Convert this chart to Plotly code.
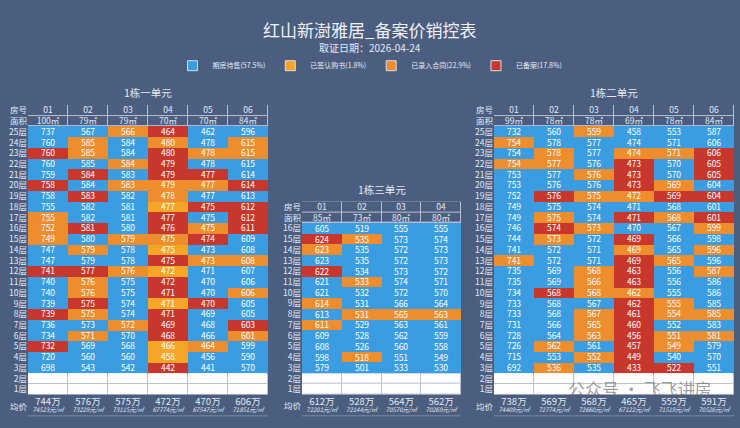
import plotly.graph_objects as go

TITLE = "红山新澍雅居_备案价销控表"
SUBTITLE = "取证日期：2026-04-24"
AVG_LABEL = "均价"
HEAD_LABELS = ["房号", "面积"]
WATERMARK = "公众号 · 飞飞讲房"

STATUS_CODES = ["B", "Y", "O", "R"]
STATUS_NAMES = ["期房待售(57.5%)", "已签认购书(1.8%)", "已录入合同(22.9%)", "已备案(17.8%)"]
STATUS_COLORS = ["#3a9de2", "#f5a628", "#ee8d2e", "#c8372d"]

BG = "#4b5e80"
TXT = "#e4e9f1"
FONT = "Noto Sans CJK SC"

# ---- 1栋一单元 ----
u1_name = "1栋一单元"
u1_rooms = ["01", "02", "03", "04", "05", "06"]
u1_areas = ["100㎡", "79㎡", "79㎡", "70㎡", "70㎡", "84㎡"]
u1_floors = [f"{f}层" for f in range(25, 2, -1)]
u1_empty = ["2层", "1层"]
u1_prices = [
    [737, 567, 566, 464, 462, 596],
    [760, 585, 584, 480, 478, 615],
    [760, 585, 584, 480, 478, 615],
    [760, 585, 584, 479, 478, 615],
    [759, 584, 583, 479, 477, 614],
    [758, 584, 583, 479, 477, 614],
    [758, 583, 582, 478, 477, 613],
    [755, 582, 581, 477, 475, 612],
    [755, 582, 581, 477, 475, 612],
    [752, 581, 580, 476, 475, 611],
    [749, 580, 579, 475, 474, 609],
    [747, 579, 578, 475, 473, 608],
    [747, 579, 578, 475, 473, 608],
    [741, 577, 576, 472, 471, 607],
    [740, 576, 575, 472, 470, 606],
    [740, 576, 575, 471, 470, 606],
    [739, 575, 574, 471, 470, 605],
    [739, 575, 574, 471, 469, 605],
    [736, 573, 572, 469, 468, 603],
    [734, 571, 570, 468, 466, 601],
    [732, 569, 568, 466, 464, 599],
    [720, 560, 560, 458, 456, 590],
    [698, 543, 542, 442, 441, 570],
]
u1_status = [
    "BBORBB", "BOBOBO", "ROBROO", "BBORBB", "BRBRRB", "RBOOOR", "BRBOBB",
    "BBBYRR", "OBBRBR", "ORBROR", "OBOORB", "BOBYBB", "BBBROO", "RROYBB",
    "BOBRBB", "BOBRBO", "BRBYRB", "ROBRBB", "BBORBR", "BOBRBO", "RBBYOB",
    "BBBYBB", "BBBRBB",
]
u1_avg_total = ["744万", "576万", "575万", "472万", "470万", "606万"]
u1_avg_unit = ["74523元/㎡", "73229元/㎡", "73115元/㎡", "67774元/㎡", "67547元/㎡", "71851元/㎡"]

# ---- 1栋三单元 ----
u3_name = "1栋三单元"
u3_rooms = ["01", "02", "03", "04"]
u3_areas = ["85㎡", "73㎡", "80㎡", "80㎡"]
u3_floors = [f"{f}层" for f in range(16, 2, -1)]
u3_empty = ["2层", "1层"]
u3_prices = [
    [605, 519, 555, 555],
    [624, 535, 573, 574],
    [623, 535, 572, 573],
    [623, 535, 572, 573],
    [622, 534, 573, 572],
    [621, 533, 574, 571],
    [621, 532, 572, 570],
    [614, 531, 566, 564],
    [613, 531, 565, 563],
    [611, 529, 563, 561],
    [609, 528, 562, 559],
    [608, 526, 560, 558],
    [598, 518, 551, 549],
    [579, 501, 533, 530],
]
u3_status = [
    "BBBB", "ROBB", "OBBB", "BBBB", "RBBB", "BOBB", "BBBB",
    "OBBB", "BOOO", "OBBB", "BBBB", "BBBB", "BOBB", "BBBB",
]
u3_avg_total = ["612万", "528万", "564万", "562万"]
u3_avg_unit = ["72201元/㎡", "72144元/㎡", "70570元/㎡", "70269元/㎡"]

# ---- 1栋二单元 ----
u2_name = "1栋二单元"
u2_rooms = ["01", "02", "03", "04", "05", "06"]
u2_areas = ["99㎡", "78㎡", "78㎡", "69㎡", "78㎡", "84㎡"]
u2_floors = [f"{f}层" for f in range(25, 2, -1)]
u2_empty = ["2层", "1层"]
u2_prices = [
    [732, 560, 559, 458, 553, 587],
    [754, 578, 577, 474, 571, 606],
    [754, 578, 577, 474, 571, 606],
    [754, 577, 576, 473, 570, 605],
    [753, 577, 576, 473, 570, 605],
    [753, 576, 576, 473, 569, 604],
    [752, 576, 575, 472, 569, 604],
    [749, 575, 574, 471, 568, 601],
    [749, 575, 574, 471, 568, 601],
    [746, 574, 573, 470, 567, 599],
    [744, 573, 572, 469, 566, 598],
    [741, 572, 571, 469, 565, 596],
    [741, 572, 571, 469, 565, 596],
    [735, 569, 568, 463, 556, 587],
    [735, 569, 566, 463, 556, 586],
    [734, 568, 568, 462, 555, 586],
    [733, 568, 567, 462, 555, 585],
    [733, 568, 567, 461, 554, 585],
    [731, 566, 565, 460, 552, 583],
    [728, 564, 563, 456, 551, 581],
    [726, 562, 561, 457, 549, 579],
    [715, 553, 552, 449, 540, 570],
    [692, 536, 535, 433, 522, 551],
]
u2_status = [
    "BBOBBB", "OBBBBB", "BOBOOR", "OOBRBR", "BBORBR", "BBBROB", "BROORR",
    "BBBBBB", "BOBROR", "BROBBO", "BOBRBB", "BBBOBO", "OBBROB", "BBORBO",
    "BBORBB", "BROOBB", "BBBROB", "BBOROO", "BBORBB", "BBOROO", "BOBROB",
    "BBORBB", "BOBRRB",
]
u2_avg_total = ["738万", "569万", "568万", "465万", "559万", "591万"]
u2_avg_unit = ["74409元/㎡", "72774元/㎡", "72660元/㎡", "67122元/㎡", "71519元/㎡", "70526元/㎡"]

W, H = 740, 428
ROW_PX = 10.78
AVG_ROWS = 2  # the 均价 block takes about two row heights below the grid


def px_x(v):
    return v / W


def px_y(v):
    return 1 - v / H


def sales_scale():
    n = len(STATUS_COLORS)
    cs = []
    for i, c in enumerate(STATUS_COLORS):
        cs.append([i / n, c])
        cs.append([(i + 1) / n, c])
    return cs


def add_table(fig, idx, name, rooms, areas, floors, empty, prices, status,
              avg_total, avg_unit, x0, x1, y0):
    n = len(rooms)
    labels = HEAD_LABELS + floors + empty
    rows = len(labels)
    blank = [None] * n
    y1 = y0 + (rows + AVG_ROWS) * ROW_PX

    sz, st = [blank, blank], [[""] * n, [""] * n]
    fz, ft = [[0] * n, [0] * n], [rooms, areas]
    for p, s in zip(prices, status):
        sz.append([STATUS_CODES.index(ch) for ch in s])
        st.append([str(v) for v in p])
        fz.append(blank)
        ft.append([""] * n)
    for _ in empty:
        sz.append(blank)
        st.append([""] * n)
        fz.append([1] * n)
        ft.append([""] * n)

    xs = list(range(n))
    ys = list(range(rows))
    ax = "" if idx == 1 else str(idx)
    xa, ya = "x" + ax, "y" + ax
    fig.add_trace(go.Heatmap(
        z=sz, x=xs, y=ys, text=st, texttemplate="%{text}",
        textfont=dict(color="#ffffff", size=8.5, family=FONT),
        colorscale=sales_scale(), zmin=-0.5, zmax=len(STATUS_CODES) - 0.5,
        showscale=False, hoverinfo="skip", xaxis=xa, yaxis=ya))
    fig.add_trace(go.Heatmap(
        z=fz, x=xs, y=ys, text=ft, texttemplate="%{text}",
        textfont=dict(color=TXT, size=8.5, family=FONT),
        colorscale=[[0, BG], [0.5, BG], [0.5, "#ffffff"], [1, "#ffffff"]],
        zmin=0, zmax=1, xgap=1, ygap=1,
        showscale=False, hoverinfo="skip", xaxis=xa, yaxis=ya))
    # plain background under the 均价 block
    fig.add_trace(go.Heatmap(
        z=[[0] * n] * AVG_ROWS, x=xs, y=[rows + k for k in range(AVG_ROWS)],
        colorscale=[[0, BG], [1, BG]], showscale=False, hoverinfo="skip",
        xaxis=xa, yaxis=ya))
    fig.add_trace(go.Scatter(
        x=xs, y=[rows + 0.25] * n, mode="text", text=avg_total,
        textfont=dict(color=TXT, size=9.5, family=FONT),
        showlegend=False, hoverinfo="skip", xaxis=xa, yaxis=ya))
    fig.add_trace(go.Scatter(
        x=xs, y=[rows + 1.0] * n, mode="text",
        text=[f"<i>{u}</i>" for u in avg_unit],
        textfont=dict(color=TXT, size=6, family=FONT),
        showlegend=False, hoverinfo="skip", xaxis=xa, yaxis=ya))

    fig.update_layout(**{
        "xaxis" + ax: dict(domain=[px_x(x0), px_x(x1)], range=[-0.5, n - 0.5],
                           showticklabels=False, showgrid=False,
                           zeroline=False, ticks="", anchor=ya, fixedrange=True),
        "yaxis" + ax: dict(domain=[px_y(y1), px_y(y0)],
                           range=[rows + AVG_ROWS - 0.5, -0.5],
                           tickvals=ys + [rows + 0.6], ticktext=labels + [AVG_LABEL],
                           showgrid=False, zeroline=False, ticks="", anchor=xa,
                           fixedrange=True,
                           tickfont=dict(color=TXT, size=8.5, family=FONT)),
    })
    fig.add_annotation(text=name, xref="paper", yref="paper",
                       x=px_x((x0 + x1) / 2), y=px_y(y0 - 12.5),
                       xanchor="center", yanchor="middle", showarrow=False,
                       font=dict(color=TXT, size=10.5, family=FONT))


fig = go.Figure()
add_table(fig, 1, u1_name, u1_rooms, u1_areas, u1_floors, u1_empty, u1_prices,
          u1_status, u1_avg_total, u1_avg_unit, 28, 268, 103.5)
add_table(fig, 2, u3_name, u3_rooms, u3_areas, u3_floors, u3_empty, u3_prices,
          u3_status, u3_avg_total, u3_avg_unit, 302, 461, 200.5)
add_table(fig, 3, u2_name, u2_rooms, u2_areas, u2_floors, u2_empty, u2_prices,
          u2_status, u2_avg_total, u2_avg_unit, 494, 734, 103.5)

for nm, col in zip(STATUS_NAMES, STATUS_COLORS):
    fig.add_trace(go.Scatter(x=[None], y=[None], mode="markers", name=nm,
                             marker=dict(symbol="square", size=10, color=col,
                                         line=dict(color="#d8dee8", width=1))))

fig.add_annotation(text=TITLE, xref="paper", yref="paper", x=0.5, y=px_y(28),
                   xanchor="center", yanchor="middle", showarrow=False,
                   font=dict(color="#eef1f6", size=17, family=FONT))
fig.add_annotation(text=SUBTITLE, xref="paper", yref="paper", x=0.5, y=px_y(46),
                   xanchor="center", yanchor="middle", showarrow=False,
                   font=dict(color=TXT, size=10, family=FONT))
fig.add_annotation(text=WATERMARK, xref="paper", yref="paper", x=px_x(640), y=px_y(388),
                   xanchor="center", yanchor="middle", showarrow=False,
                   font=dict(color="rgba(95,95,95,0.6)", size=17, family=FONT))

fig.update_layout(
    width=W, height=H, margin=dict(l=0, r=0, t=0, b=0),
    paper_bgcolor=BG, plot_bgcolor="#b7c1d1",
    font=dict(family=FONT, color=TXT),
    showlegend=True,
    legend=dict(orientation="h", x=0.5, xanchor="center", y=px_y(64), yanchor="middle",
                font=dict(size=7, color=TXT, family=FONT), bgcolor="rgba(0,0,0,0)",
                itemwidth=30, itemclick=False, itemdoubleclick=False),
)

fig.write_html("out.html", config={"displayModeBar": False},
               post_script="document.body.style.margin='0';")
